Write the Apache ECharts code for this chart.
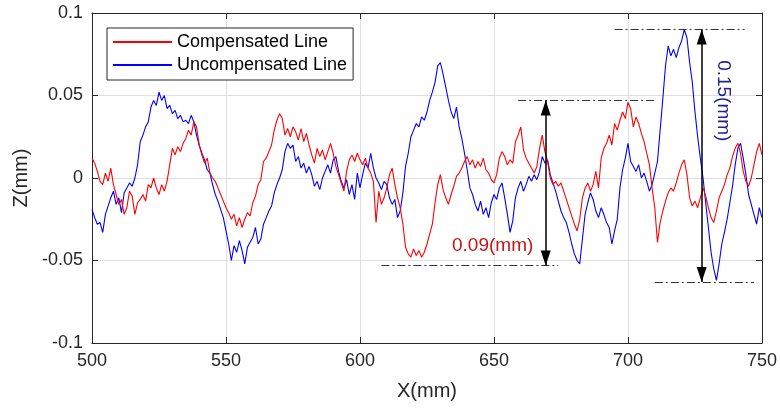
<!DOCTYPE html>
<html>
<head>
<meta charset="utf-8">
<script src="https://cdn.jsdelivr.net/npm/echarts@6/dist/echarts.min.js"></script>
<style>
html,body{margin:0;padding:0;background:#fff;}
#chart{width:780px;height:410px;}
</style>
</head>
<body>
<div id="chart"></div>
<script>
// X sample positions (mm): 500 .. 750, every 1 mm
const xStart = 500;
const xEnd = 750;

// Uncompensated line (blue), Z in mm, one value per mm from 500 to 750
const uncompensated = [
 -0.019,-0.024,-0.028,-0.027,-0.033,-0.022,-0.017,-0.012,-0.008,-0.016,
 -0.012,-0.021,-0.009,-0.006,-0.003,-0.005,0.000,0.008,0.022,0.026,
 0.031,0.034,0.043,0.047,0.044,0.052,0.047,0.050,0.042,0.044,
 0.039,0.041,0.036,0.038,0.034,0.035,0.033,0.038,0.034,0.026,
 0.020,0.015,0.011,0.005,0.003,-0.004,-0.010,-0.014,-0.019,-0.024,
 -0.032,-0.040,-0.050,-0.041,-0.045,-0.038,-0.044,-0.052,-0.042,-0.039,
 -0.036,-0.030,-0.040,-0.037,-0.028,-0.024,-0.020,-0.017,-0.009,-0.004,
 0.000,0.005,0.016,0.021,0.018,0.020,0.010,0.013,0.006,0.009,
 0.003,0.007,0.002,-0.005,-0.002,-0.007,0.000,0.004,0.008,0.003,
 0.011,0.013,0.004,-0.002,-0.006,-0.001,-0.010,-0.004,-0.013,0.003,
 -0.006,0.002,0.009,0.006,0.015,0.006,0.000,-0.003,-0.007,-0.002,
 -0.004,-0.012,-0.016,-0.013,-0.024,-0.020,-0.009,0.007,0.015,0.025,
 0.029,0.033,0.031,0.037,0.035,0.040,0.047,0.052,0.058,0.068,
 0.070,0.063,0.055,0.047,0.040,0.036,0.043,0.031,0.024,0.015,
 0.005,-0.006,-0.010,-0.016,-0.020,-0.014,-0.022,-0.018,-0.024,-0.015,
 -0.010,-0.013,-0.006,-0.003,-0.012,-0.022,-0.033,-0.026,-0.012,-0.006,
 -0.002,-0.008,-0.004,0.001,-0.002,0.002,-0.001,0.004,0.013,0.009,
 0.011,0.002,-0.003,-0.008,-0.014,-0.020,-0.024,-0.027,-0.033,-0.040,
 -0.046,-0.050,-0.052,-0.037,-0.022,-0.015,-0.009,-0.013,-0.020,-0.024,
 -0.018,-0.022,-0.027,-0.030,-0.040,-0.032,-0.025,-0.006,0.005,0.012,
 0.021,0.010,0.007,0.004,0.008,0.000,0.003,-0.002,-0.008,-0.004,
 0.003,0.010,0.029,0.048,0.068,0.080,0.074,0.078,0.073,0.079,
 0.083,0.090,0.085,0.070,0.058,0.040,0.025,0.012,0.000,-0.015,
 -0.030,-0.045,-0.055,-0.062,-0.052,-0.040,-0.033,-0.025,-0.015,-0.005,
 0.008,0.018,0.021,0.012,0.002,-0.010,-0.016,-0.022,-0.028,-0.018,
 -0.024
];

// Compensated line (red), Z in mm, one value per mm from 500 to 750
const compensated = [
 0.012,0.009,0.004,-0.002,-0.004,0.003,-0.002,0.006,-0.004,-0.010,
 -0.016,-0.013,-0.022,-0.018,-0.008,-0.011,-0.022,-0.015,-0.013,-0.010,
 -0.014,-0.004,-0.006,0.000,-0.006,-0.010,-0.004,-0.008,-0.002,0.008,
 0.018,0.014,0.019,0.016,0.021,0.024,0.029,0.026,0.034,0.031,
 0.020,0.014,0.009,0.012,0.003,0.000,-0.002,-0.006,-0.010,-0.014,
 -0.018,-0.021,-0.025,-0.022,-0.029,-0.024,-0.030,-0.025,-0.021,-0.023,
 -0.015,-0.011,-0.004,-0.001,0.010,0.012,0.016,0.020,0.029,0.035,
 0.039,0.036,0.026,0.030,0.025,0.031,0.028,0.023,0.030,0.022,
 0.027,0.020,0.014,0.009,0.018,0.013,0.017,0.011,0.016,0.021,
 0.015,0.007,0.002,-0.003,-0.008,0.004,0.011,0.014,0.010,0.015,
 0.011,0.008,0.012,0.006,0.003,-0.002,-0.027,-0.008,-0.016,-0.012,
 -0.006,0.002,0.006,-0.004,-0.012,-0.018,-0.028,-0.042,-0.046,-0.048,
 -0.043,-0.047,-0.044,-0.048,-0.045,-0.040,-0.034,-0.028,-0.015,-0.004,
 0.002,-0.007,-0.012,-0.016,-0.010,-0.005,0.001,0.003,0.006,0.010,
 0.013,0.008,0.011,0.006,0.010,0.007,0.012,0.005,0.003,-0.001,
 -0.003,0.002,0.012,0.016,0.013,0.008,0.011,0.009,0.022,0.026,
 0.031,0.017,0.012,0.009,0.006,0.003,0.007,0.018,0.026,0.016,
 0.010,0.000,-0.004,-0.002,-0.005,-0.003,-0.008,-0.013,-0.018,-0.023,
 -0.028,-0.032,-0.025,-0.012,-0.006,-0.003,-0.008,-0.004,0.004,-0.006,
 0.012,0.018,0.021,0.026,0.020,0.033,0.029,0.035,0.040,0.036,
 0.046,0.042,0.031,0.037,0.033,0.027,0.022,0.015,0.008,-0.006,
 -0.018,-0.039,-0.027,-0.020,-0.014,-0.009,-0.006,-0.008,-0.003,0.003,
 0.008,0.011,0.002,-0.012,-0.017,-0.014,-0.018,-0.012,-0.006,-0.011,
 -0.018,-0.024,-0.027,-0.020,-0.012,-0.008,-0.004,0.002,0.006,0.013,
 0.018,0.021,0.015,0.004,-0.002,-0.005,0.000,0.008,0.016,0.021,
 0.014
];

// Axis ticks
const xTicks = [500, 550, 600, 650, 700, 750];
const yTicks = [-0.1, -0.05, 0, 0.05, 0.1];

// Annotation values (data coordinates)
const refLevels = [
  { z: 0.09,  from: 695, to: 743.5 },
  { z: 0.047, from: 659, to: 710 },
  { z: -0.053, from: 608, to: 674 },
  { z: -0.063, from: 710, to: 747 }
];
const arrows = [
  { x: 669.3, top: 0.047, bottom: -0.053 },
  { x: 727.5, top: 0.09, bottom: -0.063 }
];
const notes = [
  { text: '0.09(mm)', x: 649.5, z: -0.041, color: '#cc1111', rotate: 0 },
  { text: '0.15(mm)', x: 735.5, z: 0.0468, color: '#23238a', rotate: -90 }
];

const xs = [];
for (let v = xStart; v <= xEnd; v += 1) xs.push(v);
const blueData = xs.map((x, i) => [x, uncompensated[i]]);
const redData = xs.map((x, i) => [x, compensated[i]]);

const FONT = '"Liberation Sans", Arial, Helvetica, sans-serif';
const AX = '#262626';

const markLineData = [];
refLevels.forEach(r => {
  markLineData.push([
    { coord: [r.from, r.z], symbol: 'none', lineStyle: { type: [8, 3, 2, 3], color: '#333', width: 1 } },
    { coord: [r.to, r.z], symbol: 'none' }
  ]);
});
arrows.forEach(a => {
  markLineData.push([
    { coord: [a.x, a.top], symbol: 'triangle', lineStyle: { type: 'solid', color: '#000', width: 1.5 } },
    { coord: [a.x, a.bottom], symbol: 'triangle' }
  ]);
});

const chart = echarts.init(document.getElementById('chart'), null, { renderer: 'canvas' });
chart.setOption({
  animation: false,
  backgroundColor: '#fff',
  textStyle: { fontFamily: FONT },
  grid: { left: 92, right: 15, top: 13, bottom: 67, containLabel: false },
  legend: {
    data: ['Compensated Line', 'Uncompensated Line'],
    orient: 'vertical',
    left: 107, top: 28,
    padding: [5, 6, 6, 6],
    itemGap: 5,
    itemWidth: 59, itemHeight: 2,
    backgroundColor: '#fff',
    borderColor: AX, borderWidth: 1, borderRadius: 0,
    textStyle: { fontSize: 18, color: '#000', fontFamily: FONT },
    icon: 'rect',
    selectedMode: false
  },
  xAxis: [{
    type: 'value', min: 500, max: 750, interval: 50,
    name: 'X(mm)', nameLocation: 'middle', nameGap: 38,
    nameTextStyle: { fontSize: 20, color: AX, fontFamily: FONT },
    axisLine: { show: true, onZero: false, lineStyle: { color: AX, width: 1 } },
    axisTick: { show: true, inside: true, length: 6, lineStyle: { color: AX } },
    axisLabel: { fontSize: 18, color: AX, margin: 9, fontFamily: FONT },
    splitLine: { show: true, lineStyle: { color: '#dfdfdf', width: 1 } }
  }, {
    type: 'value', min: 500, max: 750, interval: 50, position: 'top',
    axisLine: { show: true, onZero: false, lineStyle: { color: AX, width: 1 } },
    axisTick: { show: true, inside: true, length: 6, lineStyle: { color: AX } },
    axisLabel: { show: false }, splitLine: { show: false }
  }],
  yAxis: [{
    type: 'value', min: -0.1, max: 0.1, interval: 0.05,
    name: 'Z(mm)', nameLocation: 'middle', nameGap: 56, nameRotate: 90,
    nameTextStyle: { fontSize: 20, color: AX, fontFamily: FONT },
    axisLine: { show: true, onZero: false, lineStyle: { color: AX, width: 1 } },
    axisTick: { show: true, inside: true, length: 6, lineStyle: { color: AX } },
    axisLabel: { fontSize: 18, color: AX, margin: 9, fontFamily: FONT,
      formatter: v => String(Math.round(v * 1000) / 1000) },
    splitLine: { show: true, lineStyle: { color: '#dfdfdf', width: 1 } }
  }, {
    type: 'value', min: -0.1, max: 0.1, interval: 0.05, position: 'right',
    axisLine: { show: true, onZero: false, lineStyle: { color: AX, width: 1 } },
    axisTick: { show: true, inside: true, length: 6, lineStyle: { color: AX } },
    axisLabel: { show: false }, splitLine: { show: false }
  }],
  series: [{
    name: 'Uncompensated Line', type: 'line', data: blueData,
    showSymbol: false, symbol: 'none', z: 2,
    lineStyle: { color: '#0000ff', width: 1.1 }, itemStyle: { color: '#0000ff' }
  }, {
    name: 'Compensated Line', type: 'line', data: redData,
    showSymbol: false, symbol: 'none', z: 3,
    lineStyle: { color: '#ff0000', width: 1.1 }, itemStyle: { color: '#ff0000' }
  }, {
    name: 'annot', type: 'line', data: [], z: 5, silent: true,
    markLine: {
      silent: true, animation: false,
      symbolSize: [10, 15], symbolOffset: [[0, 7.5], [0, 7.5]],
      label: { show: false },
      emphasis: { disabled: true },
      itemStyle: { color: '#000' },
      data: markLineData
    },
    markPoint: {
      silent: true, animation: false,
      symbol: 'rect', symbolSize: 1, itemStyle: { color: 'rgba(0,0,0,0)' },
      data: notes.map(n => ({
        coord: [n.x, n.z],
        label: { show: true, position: 'inside', formatter: n.text, color: n.color,
          fontSize: 19, rotate: n.rotate, fontFamily: FONT }
      }))
    }
  }]
});
</script>
</body>
</html>
